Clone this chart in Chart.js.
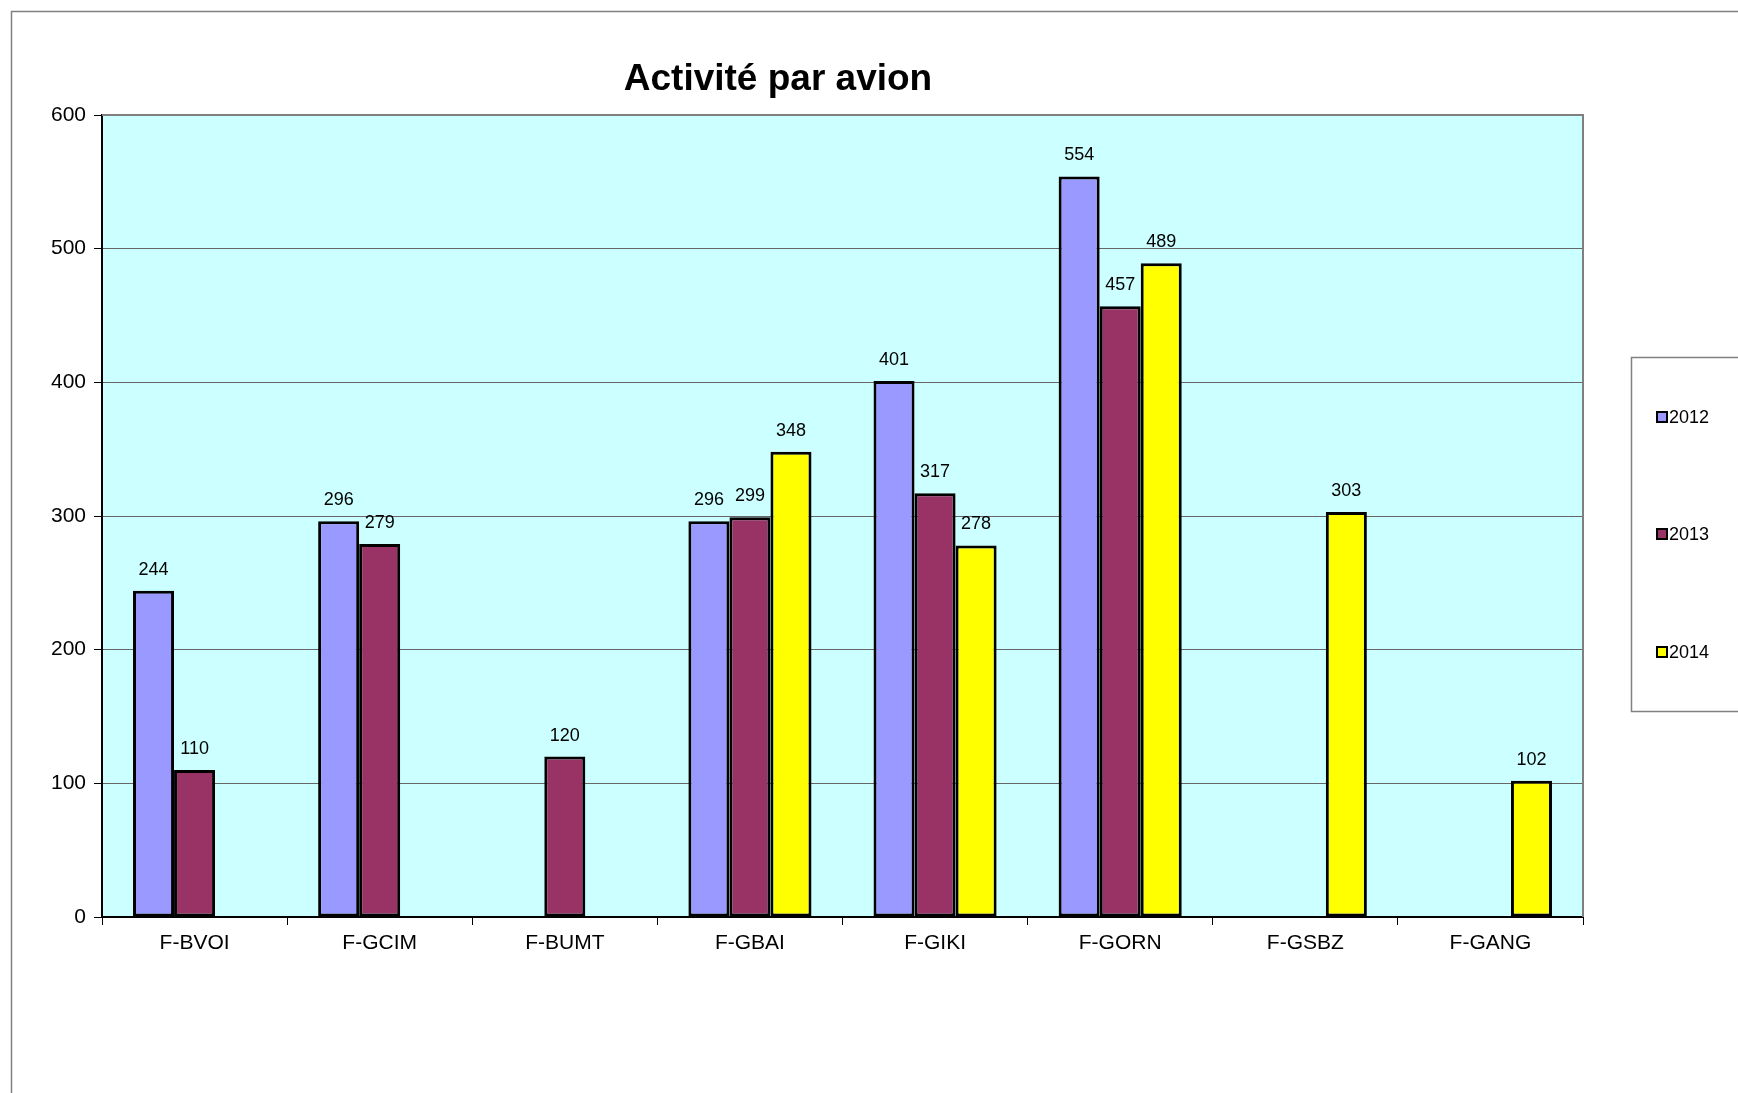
<!DOCTYPE html>
<html>
<head>
<meta charset="utf-8">
<script src="https://cdn.jsdelivr.net/npm/chart.js@4.4.1/dist/chart.umd.min.js"></script>
<style>
  html, body { margin: 0; padding: 0; background: #fff; }
  #wrap { width: 1738px; height: 1093px; }
</style>
</head>
<body>
<div id="wrap"><canvas id="myChart" width="1738" height="1093"></canvas></div>
<script>
// DATA
const avions = ['F-BVOI', 'F-GCIM', 'F-BUMT', 'F-GBAI', 'F-GIKI', 'F-GORN', 'F-GSBZ', 'F-GANG'];
const annees = ['2012', '2013', '2014'];
const vols2012 = [244, 296, null, 296, 401, 554, null, null];
const vols2013 = [110, 279, 120, 299, 317, 457, null, null];
const vols2014 = [null, null, null, 348, 278, 489, 303, 102];
const yTicks = [0, 100, 200, 300, 400, 500, 600];

const titre = 'Activité par avion';
const couleurs = ['#9999FF', '#993366', '#FFFF00'];

const fontFam = '"Liberation Sans", Arial, sans-serif';

// background, frame, title, legend, labels
const decor = {
  id: 'decor',
  beforeDraw(chart) {
    const c = chart.ctx, a = chart.chartArea;
    c.save();
    c.fillStyle = '#fff';
    c.fillRect(0, 0, chart.width, chart.height);
    c.fillStyle = '#CCFFFF';
    c.fillRect(a.left, a.top, a.right - a.left, a.bottom - a.top);
    c.restore();
  },
  afterDraw(chart) {
    const c = chart.ctx, a = chart.chartArea;
    c.save();
    // outer frame
    c.strokeStyle = '#808080';
    c.lineWidth = 1.5;
    c.strokeRect(11.5, 11.5, 1900, 1200);
    // plot border top / right
    c.strokeStyle = '#808080';
    c.lineWidth = 2;
    c.beginPath();
    c.moveTo(a.left, a.top);
    c.lineTo(a.right, a.top);
    c.lineTo(a.right, a.bottom);
    c.stroke();

    // title
    c.fillStyle = '#000';
    c.font = 'bold 37px ' + fontFam;
    c.textAlign = 'center';
    c.textBaseline = 'middle';
    c.fillText(titre, 778, 80);

    // value labels
    c.font = '18px ' + fontFam;
    c.textBaseline = 'bottom';
    chart.data.datasets.forEach((ds, i) => {
      const meta = chart.getDatasetMeta(i);
      meta.data.forEach((bar, j) => {
        const v = ds.data[j];
        if (v == null) return;
        c.fillText(String(v), bar.x, bar.y - 12);
      });
    });

    // legend
    c.strokeStyle = '#808080';
    c.lineWidth = 1.5;
    c.strokeRect(1631.5, 357.5, 200, 354);
    const ys = [417, 534, 652];
    c.textAlign = 'left';
    c.textBaseline = 'middle';
    c.font = '18px ' + fontFam;
    chart.data.datasets.forEach((ds, i) => {
      const y = ys[i];
      c.fillStyle = ds.backgroundColor;
      c.fillRect(1657, y - 5, 10, 10);
      c.strokeStyle = '#000';
      c.lineWidth = 2;
      c.strokeRect(1657, y - 5, 10, 10);
      c.fillStyle = '#000';
      c.fillText(ds.label, 1669, y + 1);
    });
    c.restore();
  }
};

const data = {
  labels: avions,
  datasets: [vols2012, vols2013, vols2014].map((vals, i) => ({
    label: annees[i],
    data: vals,
    backgroundColor: couleurs[i],
    borderColor: '#000',
    borderWidth: 3,
    borderSkipped: false,
    categoryPercentage: 0.665,
    barPercentage: 1.0
  }))
};

const config = {
  type: 'bar',
  data: data,
  options: {
    responsive: false,
    animation: false,
    layout: {
      padding: { top: 115, right: 155, bottom: 116, left: 0 }
    },
    plugins: {
      legend: { display: false },
      title: { display: false },
      tooltip: { enabled: false }
    },
    scales: {
      x: {
        grid: {
          display: true,
          offset: true,
          drawOnChartArea: false,
          drawTicks: true,
          tickLength: 8,
          tickColor: '#000',
          color: '#000'
        },
        border: { display: true, color: '#000', width: 2 },
        ticks: {
          color: '#000',
          font: { family: fontFam, size: 21 },
          padding: 6,
          maxRotation: 0
        },
        afterFit(scale) { scale.height = 60; }
      },
      y: {
        min: 0,
        max: 600,
        afterBuildTicks(scale) { scale.ticks = yTicks.map(v => ({ value: v })); },
        grid: {
          color: '#666',
          lineWidth: 1,
          drawTicks: true,
          tickLength: 8,
          tickColor: '#000'
        },
        border: { display: true, color: '#000', width: 2 },
        ticks: {
          color: '#000',
          font: { family: fontFam, size: 21 },
          padding: 8
        },
        afterFit(scale) { scale.width = 102; }
      }
    }
  },
  plugins: [decor]
};

function start() {
  const ctx = document.getElementById('myChart').getContext('2d');
  new Chart(ctx, config);
}

window.onload = start;
</script>
</body>
</html>
